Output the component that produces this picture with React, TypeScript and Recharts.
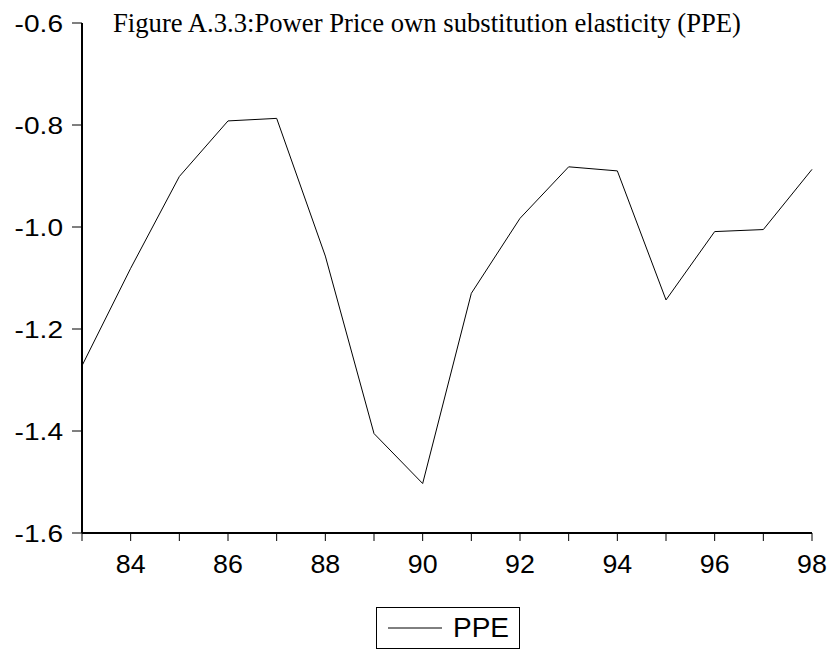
import React from 'react';
import { LineChart, Line, XAxis, YAxis, Legend, Customized } from 'recharts';

const years = [83, 84, 85, 86, 87, 88, 89, 90, 91, 92, 93, 94, 95, 96, 97, 98];
const ppe = [-1.272, -1.081, -0.901, -0.792, -0.787, -1.057, -1.405, -1.503, -1.130, -0.983, -0.882, -0.890, -1.143, -1.009, -1.005, -0.887];
const yTicks = [-1.6, -1.4, -1.2, -1.0, -0.8, -0.6];
const xTicks = years;
const title = 'Figure A.3.3:Power Price own substitution elasticity (PPE)';
const seriesName = 'PPE';

const data = years.map((y, i) => ({ year: y, PPE: ppe[i] }));

const SANS = "'Liberation Sans', Arial, sans-serif";
const SERIF = "'Liberation Serif', 'Times New Roman', serif";

const Title = () => (
  <text x={113} y={32} fontFamily={SERIF} fontSize={26.5} fill="#000" textLength={628} lengthAdjust="spacingAndGlyphs">
    {title}
  </text>
);

const YTick = (props: any) => {
  const { x, y, payload } = props;
  return (
    <g transform={`translate(${x},${y})`}>
      <text x={0} y={0} dy="0.36em" textAnchor="end" fontFamily={SANS} fontSize={24} fill="#000" transform="scale(1.17,1)">
        {Number(payload.value).toFixed(1)}
      </text>
    </g>
  );
};

const XTick = (props: any) => {
  const { x, y, payload } = props;
  const v = Number(payload.value);
  if (v % 2 !== 0) return <g />;
  return (
    <g transform={`translate(${x},${y})`}>
      <text x={0} y={0} dy={32} textAnchor="middle" fontFamily={SANS} fontSize={25.5} fill="#000" transform="scale(1.05,1)">
        {String(v)}
      </text>
    </g>
  );
};

const LegendBox = () => (
  <div style={{ width: 144, height: 42, border: '1px solid #000', boxSizing: 'border-box', display: 'flex', alignItems: 'center', background: '#fff' }}>
    <svg width={68} height={40} style={{ display: 'block', flex: 'none' }}>
      <line x1={11} y1={20} x2={65} y2={20} stroke="#000" strokeWidth={1} />
    </svg>
    <span style={{ fontFamily: SANS, fontSize: 28, lineHeight: '40px', color: '#000', marginLeft: 8 }}>{seriesName}</span>
  </div>
);

export default function App() {
  return (
    <div style={{ position: 'absolute', left: 0, top: 0, width: 832, height: 650, background: '#fff' }}>
      <LineChart width={832} height={650} data={data} margin={{ top: 23, right: 20, bottom: 77, left: 0 }}>
        <XAxis
          dataKey="year"
          type="number"
          domain={[83, 98]}
          ticks={xTicks}
          interval={0}
          tick={<XTick />}
          tickSize={8}
          tickMargin={0}
          height={40}
          axisLine={{ stroke: '#000', strokeWidth: 2 }}
          tickLine={{ stroke: '#000', strokeWidth: 1 }}
        />
        <YAxis
          type="number"
          domain={[-1.6, -0.6]}
          ticks={yTicks}
          interval={0}
          tick={<YTick />}
          tickSize={10}
          tickMargin={9}
          width={82}
          axisLine={{ stroke: '#000', strokeWidth: 2 }}
          tickLine={{ stroke: '#000', strokeWidth: 1 }}
        />
        <Line
          dataKey="PPE"
          name={seriesName}
          stroke="#000"
          strokeWidth={1}
          dot={false}
          activeDot={false}
          isAnimationActive={false}
        />
        <Legend
          layout="horizontal"
          verticalAlign="middle"
          align="center"
          content={() => <LegendBox />}
          wrapperStyle={{ position: 'absolute', left: 376, top: 607, width: 144, height: 42 }}
        />
        <Customized component={Title} />
      </LineChart>
    </div>
  );
}
